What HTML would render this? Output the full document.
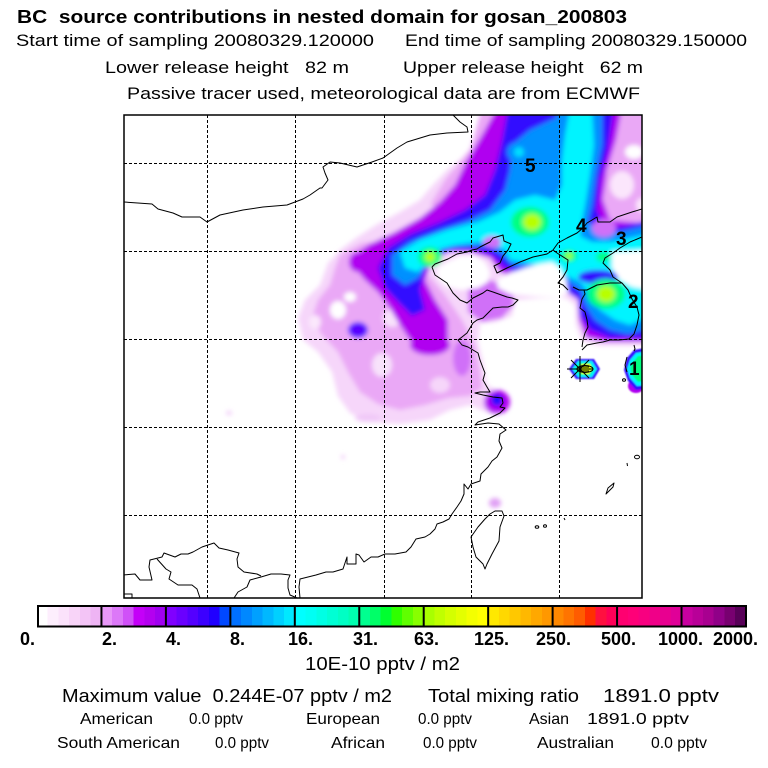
<!DOCTYPE html>
<html><head><meta charset="utf-8"><style>
html,body{margin:0;padding:0;background:#fff;}
svg{display:block;}
text{font-family:"Liberation Sans",Arial,sans-serif;fill:#000;}
.b{font-weight:bold;}
.r{font-size:16px;}
</style></head><body>
<svg width="768" height="768" viewBox="0 0 768 768" xmlns="http://www.w3.org/2000/svg">
<defs>
<clipPath id="fr"><rect x="124" y="115" width="518" height="483"/></clipPath>
<filter id="bl" x="-10%" y="-10%" width="120%" height="120%"><feGaussianBlur stdDeviation="2.5"/></filter>
<filter id="bl1" x="-20%" y="-20%" width="140%" height="140%"><feGaussianBlur stdDeviation="0.8"/></filter>
</defs>
<rect width="768" height="768" fill="#fff"/>

<!-- headings -->
<text class="b" x="17" y="23" font-size="18" textLength="610" lengthAdjust="spacingAndGlyphs" xml:space="preserve">BC  source contributions in nested domain for gosan_200803</text>
<text x="16" y="46" font-size="17" textLength="358" lengthAdjust="spacingAndGlyphs">Start time of sampling 20080329.120000</text>
<text x="405" y="46" font-size="17" textLength="342" lengthAdjust="spacingAndGlyphs">End time of sampling 20080329.150000</text>
<text x="105" y="73" font-size="17" textLength="244" lengthAdjust="spacingAndGlyphs" xml:space="preserve">Lower release height   82 m</text>
<text x="403" y="73" font-size="17" textLength="240" lengthAdjust="spacingAndGlyphs" xml:space="preserve">Upper release height   62 m</text>
<text x="127" y="99" font-size="17" textLength="513" lengthAdjust="spacingAndGlyphs">Passive tracer used, meteorological data are from ECMWF</text>

<!-- map field -->
<g clip-path="url(#fr)">
<g filter="url(#bl)">
<path fill="#f6d6fa" d="M490,108 L650,108 L650,346 L600,346 L582,341 L576,325 L575,305 L566,298 L540,298 L515,300 L512,316 L495,322 L480,323 L478,342 L483,362 L487,385 L500,392 L508,405 L498,416 L484,411 L470,405 L450,410 L430,420 L400,424 L370,422 L350,413 L338,396 L332,372 L318,352 L303,340 L298,318 L305,300 L320,285 L328,263 L340,250 L356,238 L376,225 L400,212 L420,200 L432,186 L447,170 L462,158 L476,142 Z"/>
<path fill="#eaa8f6" d="M340,255 L362,243 L390,240 L420,265 L445,295 L462,320 L475,345 L480,372 L482,388 L470,396 L448,398 L425,405 L400,410 L378,404 L360,392 L348,372 L338,352 L322,335 L312,318 L318,300 L330,285 L335,268 Z"/>
<ellipse cx="338" cy="310" rx="8" ry="9" fill="#fff"/>
<ellipse cx="350" cy="297" rx="6" ry="5" fill="#fff"/>
<ellipse cx="392" cy="318" rx="9" ry="9" fill="#f8e2fb"/>
<ellipse cx="382" cy="365" rx="10" ry="12" fill="#f8e2fb"/>
<ellipse cx="315" cy="322" rx="6" ry="7" fill="#fbe8fc"/>
<ellipse cx="440" cy="385" rx="10" ry="8" fill="#f6d6fa"/>
<path fill="#eaa8f6" d="M615,108 L650,108 L650,228 L612,224 L603,205 L606,178 L612,148 Z"/>
<ellipse cx="634" cy="152" rx="9" ry="7" fill="#fff"/>
<ellipse cx="622" cy="185" rx="12" ry="14" fill="#fbe6fc"/>
<ellipse cx="642" cy="205" rx="6" ry="7" fill="#fbe6fc"/>
<path fill="#eaa8f6" d="M470,150 L482,108 L520,108 L505,140 L490,170 L470,192 L448,208 L430,205 L445,180 L460,162 Z"/>
<path fill="#b000f0" d="M497,108 L622,108 L616,140 L607,170 L603,200 L610,220 L650,224 L650,342 L605,342 L586,338 L579,320 L578,300 L567,292 L545,286 L520,280 L500,272 L490,258 L470,252 L448,252 L432,262 L425,280 L435,300 L448,320 L448,340 L430,348 L410,340 L398,322 L388,305 L378,292 L365,280 L355,268 L352,256 L370,244 L395,232 L420,218 L440,202 L455,185 L466,162 L482,135 Z"/>
<path fill="#d070f8" d="M468,283 L490,280 L512,288 L514,305 L502,318 L482,322 L468,312 Z"/>
<ellipse cx="430" cy="345" rx="20" ry="10" fill="#b000f0"/>
<ellipse cx="462" cy="358" rx="9" ry="18" fill="#d070f8"/>
<ellipse cx="358" cy="262" rx="9" ry="10" fill="#b000f0"/>
<ellipse cx="358" cy="330" rx="10" ry="8" fill="#5800ff"/>
<ellipse cx="497" cy="402" rx="13" ry="12" fill="#b000f0"/>
<ellipse cx="497" cy="400" rx="6" ry="6" fill="#2010ff"/>
<path fill="#3010ff" d="M508,108 L614,108 L608,150 L600,180 L597,210 L605,228 L625,226 L650,220 L650,338 L610,338 L590,330 L580,315 L578,298 L565,290 L545,283 L525,275 L505,268 L492,255 L475,250 L455,250 L435,256 L425,270 L420,290 L425,310 L412,316 L398,302 L385,288 L378,268 L388,248 L410,234 L440,222 L465,210 L485,195 L495,170 L502,140 Z"/>
<path fill="#0090ff" d="M512,145 L530,130 L556,118 L558,108 L602,108 L602,145 L596,175 L592,205 L588,222 L600,232 L620,232 L650,225 L650,328 L628,334 L610,330 L595,320 L585,305 L580,290 L568,282 L550,275 L530,268 L512,265 L503,255 L490,247 L475,246 L455,247 L440,250 L428,262 L418,278 L405,285 L392,275 L392,255 L410,242 L440,230 L470,220 L490,210 L505,190 L510,170 Z"/>
<ellipse cx="518" cy="152" rx="11" ry="10" fill="#0090ff"/>
<ellipse cx="519" cy="152" rx="5" ry="5" fill="#00e0ff"/>
<path fill="#00f4ff" d="M400,252 L420,240 L448,230 L478,222 L500,212 L515,200 L535,195 L555,200 L562,185 L562,160 L565,135 L570,108 L592,108 L594,145 L590,175 L586,200 L582,222 L580,236 L592,242 L610,242 L630,238 L650,234 L650,316 L630,325 L615,320 L600,310 L590,295 L580,282 L565,275 L545,268 L525,262 L510,260 L505,250 L490,241 L470,243 L455,245 L440,249 L430,260 L418,272 L405,268 Z"/>
<ellipse cx="604" cy="228" rx="12" ry="9" fill="#d070f8"/>
<ellipse cx="492" cy="242" rx="9" ry="6" fill="#d070f8"/>
<ellipse cx="598" cy="277" rx="20" ry="7" fill="#3010ff"/>
<path fill="#fff" d="M437,268 L447,262 L460,256 L475,256 L485,262 L490,272 L488,282 L478,288 L460,290 L445,286 L438,278 Z"/>
<path fill="#fff" d="M497,280 L510,273 L525,268 L540,264 L552,262 L560,268 L566,280 L568,292 L560,298 L530,296 L510,294 L498,288 Z"/>
<path fill="#fff" d="M612,252 L650,250 L650,290 L632,287 L620,280 L612,268 Z"/>
<ellipse cx="430" cy="257" rx="12" ry="10" fill="#00ff80"/>
<ellipse cx="430" cy="257" rx="5" ry="5" fill="#b8ff00"/>
<ellipse cx="530" cy="222" rx="19" ry="15" fill="#00ff80"/>
<ellipse cx="532" cy="222" rx="9" ry="8" fill="#b8ff00"/>
<ellipse cx="569" cy="256" rx="8" ry="6" fill="#00ff80"/>
<ellipse cx="569" cy="256" rx="3" ry="3" fill="#b8ff00"/>
<ellipse cx="603" cy="257" rx="7" ry="5" fill="#00ff80"/>
<ellipse cx="606" cy="294" rx="19" ry="15" fill="#00ff80"/>
<ellipse cx="606" cy="294" rx="9" ry="8" fill="#b8ff00"/>
<ellipse cx="229" cy="413" rx="3" ry="2" fill="#f0c8f8"/>
<ellipse cx="368" cy="418" rx="13" ry="4" fill="#f0c8f8"/>
<ellipse cx="343" cy="457" rx="2" ry="2" fill="#f0c8f8"/>
<ellipse cx="495" cy="503" rx="6" ry="5" fill="#e0a0f4"/>
</g>
<g filter="url(#bl1)">
<ellipse cx="636" cy="386" rx="8" ry="7" fill="#b000f0"/>
<path fill="#3010ff" d="M627,358 L634,350 L650,347 L650,388 L636,390 L628,381 L624,370 Z"/>
<path fill="#00f4ff" d="M630,360 L636,353 L650,351 L650,385 L637,386 L630,378 L627,369 Z"/>
<path fill="#00ff80" d="M633,362 L638,356 L650,355 L650,380 L638,382 L632,375 L630,368 Z"/>
<path fill="#3010ff" d="M569,369 L576,359 L594,359 L600,369 L594,379 L576,379 Z"/>
<path fill="#00f4ff" d="M572,369 L578,361 L592,361 L597,369 L592,377 L578,377 Z"/>
<path fill="#00ff80" d="M575,369 L580,363 L590,363 L594,369 L590,375 L580,375 Z"/>
<path fill="#e8ff00" d="M578,369 L582,364 L590,364 L592,369 L589,374 L582,374 Z"/>
</g>

<!-- coastlines -->
<g fill="none" stroke="#000" stroke-width="1" stroke-linejoin="round">
<polyline points="124,202 152,204 158,209 173,213 182,217 200,217 207,222 220,215 243,210 263,207 287,205 303,199 310,195 320,188 322,188 328,180 325,173 323,167 330,162 340,163 357,167 372,162 383,158 397,148 407,142 430,135 447,133 468,132 467,127 460,122 453,115"/>
<polyline points="432,267 435,264 448,259 457,254 467,252 472,250 477,249 480,247 490,242 493,238 503,235 504,241 511,244 508,250 503,256 500,263 494,266 497,273 507,268 520,262 533,257 547,254 553,250 558,243 567,238 577,233 583,228 587,223 597,217 598,222 610,222 617,217 623,215 632,212 642,209"/>
<polyline points="553,250 557,253 568,260 567,270 563,277 558,283 563,285 568,290"/>
<polyline points="573,287 579,290 587,290 597,285 610,283 622,283"/>
<polyline points="642,237 630,242 620,248 613,253 605,258 603,263 610,270 613,277 622,283 628,290 632,299 637,307 639,315 637,325 634,334 629,339 619,340 610,340 603,342 597,343 587,345 582,350"/>
<polyline points="579,290 584,290 585,294 582,299 580,308 585,312 587,320 588,327 585,333 583,340 582,347"/>
<polyline points="432,267 435,275 447,283 453,293 460,300 467,303 473,298 483,293 487,290 493,292 507,297 512,298 518,300 513,305 508,307 502,307 493,308 488,313 483,318 477,320 473,323 467,333 462,337 458,340 462,345 468,347 473,350 478,353 480,360 483,368 485,373 483,380 487,387 490,392 480,392 475,393 483,395 493,397 502,398 503,403 500,407 505,408 500,413 490,418 478,422 475,425 488,423 499,424 506,430 500,434 499,441 502,448 497,457 492,461 488,467 481,474 480,481 471,484 468,489 464,484 464,494 461,501 457,507 452,514 449,519 443,522 437,524 435,529 430,534 425,537 416,539 411,547 406,552 395,554 385,554 378,557 371,557 364,562 359,555 356,554 356,564 347,564 347,557 343,569 333,572 326,572 316,575 300,579 299,587 300,598"/>
<polyline points="297,598 290,595 288,588 288,580 290,575 281,574 271,574 261,577 250,580 247,587 238,592 234,598"/>
<polyline points="123,575 135,574 140,580 152,580 149,567 150,560 162,557 164,553 175,557 181,554 188,554 193,552 202,547 214,543 219,548 228,550 239,553 237,559 238,567 244,572 257,574 261,576"/>
<polyline points="157,559 166,569 171,572 169,579 178,585 192,585 197,589 200,598"/>
<polyline points="124,594 132,594 132,598"/>
<polygon points="495,511 502,511 504,516 500,527 499,541 492,554 487,564 485,569 483,564 476,557 473,547 471,537 478,527 485,519 490,514"/>
<ellipse cx="537" cy="527" rx="1.8" ry="1.3"/>
<ellipse cx="545" cy="526" rx="1.5" ry="1.3"/>
<path d="M564,518 l1,2"/>
<path d="M606,494 L608,488 L614,483 L613,487 L608,492 Z"/>
<path d="M627,463 l0.5,3"/>
<ellipse cx="637" cy="457" rx="2.5" ry="1.8"/>
<path d="M634,345 l1,4 l-1,2"/>
<path d="M627,357 l-2,8 l2,7"/>
<ellipse cx="624" cy="380" rx="1.5" ry="1.3"/>
<ellipse cx="585" cy="369" rx="8" ry="3.5"/>
<path d="M579,367 h10 M579,371 h10"/>
</g>

<!-- star -->
<g stroke="#000" stroke-width="1">
<line x1="567" y1="369" x2="593" y2="369"/>
<line x1="580" y1="356" x2="580" y2="382"/>
<line x1="571" y1="360" x2="589" y2="378"/>
<line x1="571" y1="378" x2="589" y2="360"/>
</g>

<!-- grid -->
<g stroke="#000" stroke-width="1" stroke-dasharray="3,2">
<line x1="207.5" y1="115" x2="207.5" y2="598"/>
<line x1="295.5" y1="115" x2="295.5" y2="598"/>
<line x1="384.5" y1="115" x2="384.5" y2="598"/>
<line x1="471.5" y1="115" x2="471.5" y2="598"/>
<line x1="559.5" y1="115" x2="559.5" y2="598"/>
<line x1="124" y1="163.5" x2="642" y2="163.5"/>
<line x1="124" y1="251.5" x2="642" y2="251.5"/>
<line x1="124" y1="339.5" x2="642" y2="339.5"/>
<line x1="124" y1="427.5" x2="642" y2="427.5"/>
<line x1="124" y1="515.5" x2="642" y2="515.5"/>
</g>
<!-- numbers -->
<text class="b" x="525" y="172" font-size="19">5</text>
<text class="b" x="576" y="232" font-size="19">4</text>
<text class="b" x="616" y="245" font-size="19">3</text>
<text class="b" x="628" y="308" font-size="19">2</text>
<text class="b" x="629" y="375" font-size="19">1</text>
</g>
<rect x="124" y="115" width="518" height="483" fill="none" stroke="#000" stroke-width="1.5"/>

<!-- colorbar -->
<g shape-rendering="crispEdges">
<rect x="37.00" y="605" width="11" height="22" fill="#ffffff"/>
<rect x="47.74" y="605" width="11" height="22" fill="#fdeefd"/>
<rect x="58.48" y="605" width="11" height="22" fill="#fbe2fb"/>
<rect x="69.23" y="605" width="11" height="22" fill="#f8d4f8"/>
<rect x="79.97" y="605" width="11" height="22" fill="#f3c4f6"/>
<rect x="90.71" y="605" width="11" height="22" fill="#eeb4f4"/>
<rect x="101.45" y="605" width="11" height="22" fill="#e898f8"/>
<rect x="112.19" y="605" width="11" height="22" fill="#dc78f8"/>
<rect x="122.94" y="605" width="11" height="22" fill="#d050f8"/>
<rect x="133.68" y="605" width="11" height="22" fill="#c400f8"/>
<rect x="144.42" y="605" width="11" height="22" fill="#b400f0"/>
<rect x="155.16" y="605" width="11" height="22" fill="#a000f0"/>
<rect x="165.90" y="605" width="11" height="22" fill="#8000ff"/>
<rect x="176.65" y="605" width="11" height="22" fill="#6a00ff"/>
<rect x="187.39" y="605" width="11" height="22" fill="#5400ff"/>
<rect x="198.13" y="605" width="11" height="22" fill="#3c00ff"/>
<rect x="208.87" y="605" width="11" height="22" fill="#2000ff"/>
<rect x="219.61" y="605" width="11" height="22" fill="#0048ff"/>
<rect x="230.36" y="605" width="11" height="22" fill="#0070ff"/>
<rect x="241.10" y="605" width="11" height="22" fill="#0088ff"/>
<rect x="251.84" y="605" width="11" height="22" fill="#00a0ff"/>
<rect x="262.58" y="605" width="11" height="22" fill="#00b8ff"/>
<rect x="273.32" y="605" width="11" height="22" fill="#00d0ff"/>
<rect x="284.06" y="605" width="11" height="22" fill="#00e8ff"/>
<rect x="294.81" y="605" width="11" height="22" fill="#00ffff"/>
<rect x="305.55" y="605" width="11" height="22" fill="#00fff4"/>
<rect x="316.29" y="605" width="11" height="22" fill="#00ffe4"/>
<rect x="327.03" y="605" width="11" height="22" fill="#00ffd4"/>
<rect x="337.77" y="605" width="11" height="22" fill="#00ffc4"/>
<rect x="348.52" y="605" width="11" height="22" fill="#00ffb0"/>
<rect x="359.26" y="605" width="11" height="22" fill="#00ff90"/>
<rect x="370.00" y="605" width="11" height="22" fill="#00ff68"/>
<rect x="380.74" y="605" width="11" height="22" fill="#00ff30"/>
<rect x="391.48" y="605" width="11" height="22" fill="#30ff00"/>
<rect x="402.23" y="605" width="11" height="22" fill="#60ff00"/>
<rect x="412.97" y="605" width="11" height="22" fill="#88ff00"/>
<rect x="423.71" y="605" width="11" height="22" fill="#a8ff00"/>
<rect x="434.45" y="605" width="11" height="22" fill="#c0ff00"/>
<rect x="445.19" y="605" width="11" height="22" fill="#d4ff00"/>
<rect x="455.94" y="605" width="11" height="22" fill="#e4ff00"/>
<rect x="466.68" y="605" width="11" height="22" fill="#f4ff00"/>
<rect x="477.42" y="605" width="11" height="22" fill="#ffff00"/>
<rect x="488.16" y="605" width="11" height="22" fill="#ffe800"/>
<rect x="498.90" y="605" width="11" height="22" fill="#ffd800"/>
<rect x="509.65" y="605" width="11" height="22" fill="#ffc800"/>
<rect x="520.39" y="605" width="11" height="22" fill="#ffb800"/>
<rect x="531.13" y="605" width="11" height="22" fill="#ffa800"/>
<rect x="541.87" y="605" width="11" height="22" fill="#ff9800"/>
<rect x="552.61" y="605" width="11" height="22" fill="#ff8800"/>
<rect x="563.35" y="605" width="11" height="22" fill="#ff7400"/>
<rect x="574.10" y="605" width="11" height="22" fill="#ff5c00"/>
<rect x="584.84" y="605" width="11" height="22" fill="#ff3000"/>
<rect x="595.58" y="605" width="11" height="22" fill="#ff1040"/>
<rect x="606.32" y="605" width="11" height="22" fill="#ff0058"/>
<rect x="617.06" y="605" width="11" height="22" fill="#ff0070"/>
<rect x="627.81" y="605" width="11" height="22" fill="#ff0078"/>
<rect x="638.55" y="605" width="11" height="22" fill="#f80080"/>
<rect x="649.29" y="605" width="11" height="22" fill="#f00088"/>
<rect x="660.03" y="605" width="11" height="22" fill="#e80090"/>
<rect x="670.77" y="605" width="11" height="22" fill="#e00098"/>
<rect x="681.52" y="605" width="11" height="22" fill="#c800a0"/>
<rect x="692.26" y="605" width="11" height="22" fill="#b80098"/>
<rect x="703.00" y="605" width="11" height="22" fill="#a80090"/>
<rect x="713.74" y="605" width="11" height="22" fill="#900088"/>
<rect x="724.48" y="605" width="11" height="22" fill="#780070"/>
<rect x="735.23" y="605" width="11" height="22" fill="#580058"/>
</g>
<g stroke="#000" stroke-width="2">
<line x1="101.45" y1="605" x2="101.45" y2="627"/>
<line x1="165.90" y1="605" x2="165.90" y2="627"/>
<line x1="230.36" y1="605" x2="230.36" y2="627"/>
<line x1="294.81" y1="605" x2="294.81" y2="627"/>
<line x1="359.26" y1="605" x2="359.26" y2="627"/>
<line x1="423.71" y1="605" x2="423.71" y2="627"/>
<line x1="488.16" y1="605" x2="488.16" y2="627"/>
<line x1="552.61" y1="605" x2="552.61" y2="627"/>
<line x1="617.06" y1="605" x2="617.06" y2="627"/>
<line x1="681.52" y1="605" x2="681.52" y2="627"/>
</g>
<rect x="38" y="606" width="708" height="20.5" fill="none" stroke="#000" stroke-width="2"/>

<g font-size="18">
<text class="b" x="20" y="645">0.</text>
<text class="b" x="102" y="645">2.</text>
<text class="b" x="166" y="645">4.</text>
<text class="b" x="230" y="645">8.</text>
<text class="b" x="288" y="645">16.</text>
<text class="b" x="353" y="645">31.</text>
<text class="b" x="414" y="645">63.</text>
<text class="b" x="474" y="645">125.</text>
<text class="b" x="536" y="645">250.</text>
<text class="b" x="601" y="645">500.</text>
<text class="b" x="658" y="645">1000.</text>
<text class="b" x="713" y="645">2000.</text>
</g>

<text x="305" y="670" font-size="18" textLength="155" lengthAdjust="spacingAndGlyphs">10E-10 pptv / m2</text>

<text x="62" y="702" font-size="18" textLength="330" lengthAdjust="spacingAndGlyphs" xml:space="preserve">Maximum value  0.244E-07 pptv / m2</text>
<text x="428" y="702" font-size="18" textLength="151" lengthAdjust="spacingAndGlyphs">Total mixing ratio</text>
<text x="603" y="702" font-size="18" textLength="116" lengthAdjust="spacingAndGlyphs">1891.0 pptv</text>

<text class="r" x="80" y="724" textLength="73" lengthAdjust="spacingAndGlyphs">American</text>
<text class="r" x="189" y="724" textLength="54" lengthAdjust="spacingAndGlyphs">0.0 pptv</text>
<text class="r" x="306" y="724" textLength="74" lengthAdjust="spacingAndGlyphs">European</text>
<text class="r" x="418" y="724" textLength="54" lengthAdjust="spacingAndGlyphs">0.0 pptv</text>
<text class="r" x="529" y="724">Asian</text>
<text class="r" x="587" y="724" textLength="102" lengthAdjust="spacingAndGlyphs">1891.0 pptv</text>

<text class="r" x="57" y="748" textLength="123" lengthAdjust="spacingAndGlyphs">South American</text>
<text class="r" x="215" y="748" textLength="54" lengthAdjust="spacingAndGlyphs">0.0 pptv</text>
<text class="r" x="331" y="748" textLength="54" lengthAdjust="spacingAndGlyphs">African</text>
<text class="r" x="423" y="748" textLength="54" lengthAdjust="spacingAndGlyphs">0.0 pptv</text>
<text class="r" x="537" y="748" textLength="77" lengthAdjust="spacingAndGlyphs">Australian</text>
<text class="r" x="651" y="748" textLength="56" lengthAdjust="spacingAndGlyphs">0.0 pptv</text>
</svg>
</body></html>
